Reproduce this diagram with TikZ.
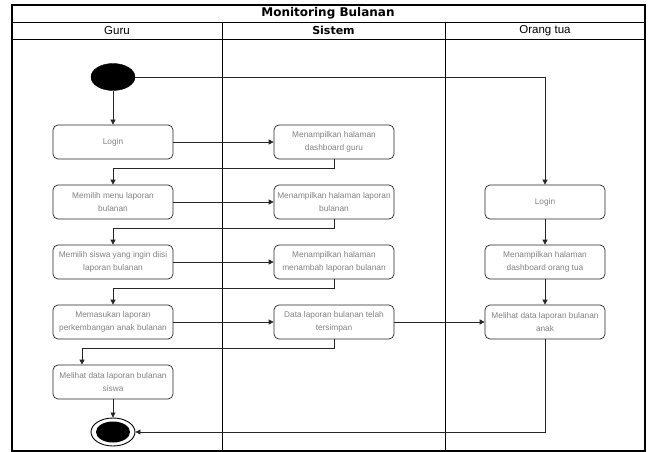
\documentclass[tikz,border=0pt]{standalone}
\usepackage{fontspec}
\setmainfont{Liberation Sans}
\newfontfamily\boldsans{DejaVu Sans}
\usetikzlibrary{arrows.meta,positioning,shapes.geometric}

\begin{document}
\begin{tikzpicture}[x=1pt,y=-1pt,
  act/.style={draw=black!85,line width=0.7pt,rounded corners=5pt,minimum width=120pt,minimum height=34pt,
    align=center,inner sep=1pt,text=black!50,font=\fontsize{8.3}{13}\selectfont},
  flow/.style={draw=black!85,line width=0.7pt,-{Triangle[length=5pt,width=5pt]}},
  lane/.style={line width=0.8pt}]
  \useasboundingbox (0,0) rectangle (649,452);

  % swimlanes
  \draw[line width=1.1pt] (12,5) rectangle (645,451);
  \draw[lane] (12,22) -- (645,22);
  \draw[lane] (12,39) -- (645,39);
  \draw[lane] (222,22) -- (222,451);
  \draw[lane] (445,22) -- (445,451);
  \node (judul) at (328,13.5) {\boldsans\bfseries\fontsize{12}{13}\selectfont Monitoring Bulanan};
  \node (guru) at (117,30.5) {\fontsize{11.5}{12}\selectfont Guru};
  \node (sistem) at (333.5,30.5) {\boldsans\bfseries\fontsize{11}{12}\selectfont Sistem};
  \node (ortu) at (545,30.5) {\fontsize{11.5}{12}\selectfont Orang tua};

  % start dan akhir
  \node[draw,fill=black,ellipse,minimum width=44pt,minimum height=27pt,inner sep=0pt] (mulai) at (113,77) {};
  \node[draw,line width=0.9pt,ellipse,minimum width=44pt,minimum height=28pt,inner sep=0pt] (akhir) at (113,432) {};
  \fill (akhir.center) ellipse (17pt and 10.5pt);

  % guru
  \node[act] (login) at (113,142) {Login};
  \node[act] (menu) at (113,202) {Memilih menu laporan\\bulanan};
  \node[act] (siswa) at (113,262) {Memilih siswa yang ingin diisi\\laporan bulanan};
  \node[act] (masuk) at (113,322) {Memasukan laporan\\perkembangan anak bulanan};
  \node[act] (lihat) at (113,382) {Melihat data laporan bulanan\\siswa};

  % sistem
  \node[act] (dash) at (334,142) {Menampilkan halaman\\dashboard guru};
  \node[act] (hlap) at (334,202) {Menampilkan halaman laporan\\bulanan};
  \node[act] (tambah) at (334,262) {Menampilkan halaman\\menambah laporan bulanan};
  \node[act] (simpan) at (334,322) {Data laporan bulanan telah\\tersimpan};

  % orang tua
  \node[act] (loginot) at (545,202) {Login};
  \node[act] (dashot) at (545,262) {Menampilkan halaman\\dashboard orang tua};
  \node[act] (anak) at (545,322) {Melihat data laporan bulanan\\anak};

  \draw[flow] (mulai) -- (login);
  \draw[flow] (mulai.east) -| (loginot.north);
  \draw[flow] (login) -- (dash);
  \draw[flow] (dash.south) -- ++(0,9) -| (menu.north);
  \draw[flow] (menu) -- (hlap);
  \draw[flow] (hlap.south) -- ++(0,9) -| (siswa.north);
  \draw[flow] (siswa) -- (tambah);
  \draw[flow] (tambah.south) -- ++(0,9) -| (masuk.north);
  \draw[flow] (masuk) -- (simpan);
  \draw[flow] (simpan.south) -- ++(0,9) -| ([xshift=-31pt]lihat.north);
  \draw[flow] (simpan) -- (anak);
  \draw[flow] (loginot) -- (dashot);
  \draw[flow] (dashot) -- (anak);
  \draw[flow] (lihat) -- (akhir);
  \draw[flow] (anak.south) |- (akhir.east);
\end{tikzpicture}
\end{document}
